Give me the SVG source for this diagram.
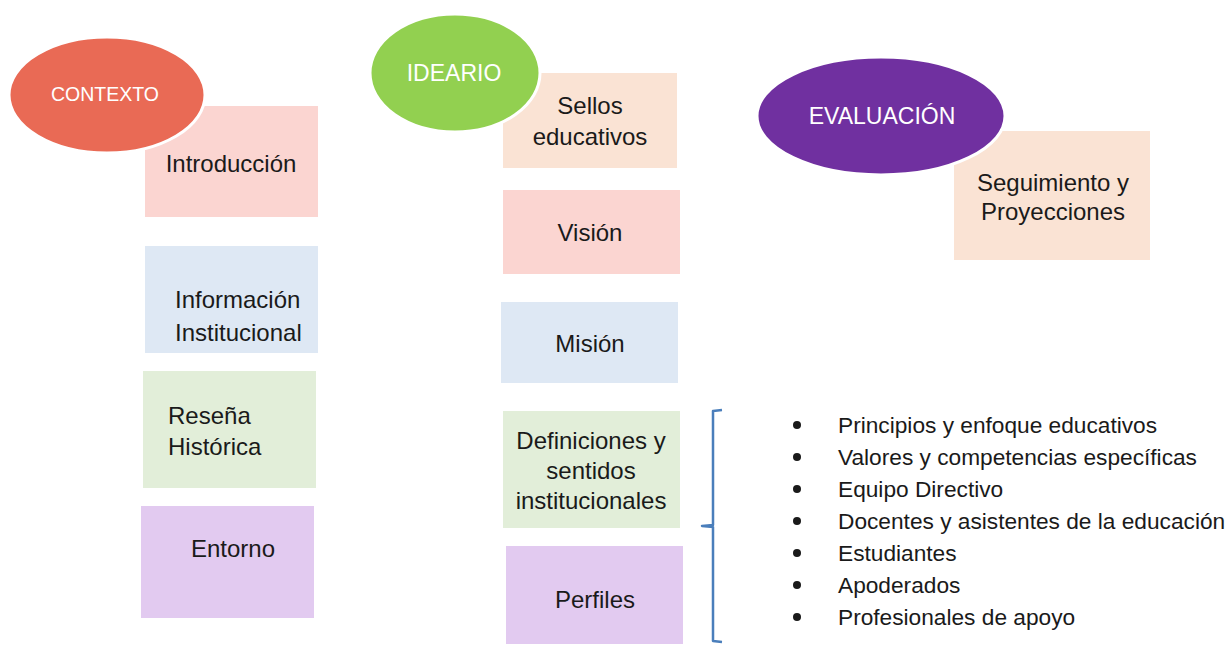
<svg xmlns="http://www.w3.org/2000/svg" width="1230" height="645" viewBox="0 0 1230 645">
<style>
text{font-family:"Liberation Sans",Arial,sans-serif}
.box{font-size:24px;fill:#1a1a1a}
.oval{font-size:23px;fill:#ffffff}
.ell{stroke:#ffffff;stroke-width:3}
.pink{fill:#FBD5D1}
.peach{fill:#FAE3D4}
.blue{fill:#DEE8F4}
.green{fill:#E2EED9}
.lav{fill:#E2CAF0}
.li{font-size:22.7px;fill:#1a1a1a}
.dot{fill:#1a1a1a}
</style>
<rect width="1230" height="645" fill="#ffffff"/>

<g id="introduccion"><rect class="pink" x="145" y="106" width="173" height="111"/><text class="box" x="231" y="172" text-anchor="middle">Introducción</text></g>
<g id="informacion"><rect class="blue" x="145" y="246" width="173" height="107"/><text class="box" x="175" y="308">Información</text><text class="box" x="175" y="341">Institucional</text></g>
<g id="resena"><rect class="green" x="143" y="371" width="173" height="117"/><text class="box" x="168" y="424">Reseña</text><text class="box" x="168" y="455">Histórica</text></g>
<g id="entorno"><rect class="lav" x="141" y="506" width="173" height="112"/><text class="box" x="233" y="557" text-anchor="middle">Entorno</text></g>
<g id="contexto"><ellipse class="ell" cx="107" cy="95" rx="98" ry="58" fill="#E96A55"/><text class="oval" x="105" y="101" text-anchor="middle" style="font-size:19.5px">CONTEXTO</text></g>

<g id="sellos"><rect class="peach" x="503" y="73" width="174" height="95"/><text class="box" x="590" y="114" text-anchor="middle">Sellos</text><text class="box" x="590" y="145" text-anchor="middle">educativos</text></g>
<g id="vision"><rect class="pink" x="503" y="190" width="177" height="84"/><text class="box" x="590" y="241" text-anchor="middle">Visión</text></g>
<g id="mision"><rect class="blue" x="501" y="302" width="177" height="81"/><text class="box" x="590" y="352" text-anchor="middle">Misión</text></g>
<g id="definiciones"><rect class="green" x="503" y="411" width="177" height="117"/><text class="box" x="591" y="449" text-anchor="middle">Definiciones y</text><text class="box" x="591" y="479" text-anchor="middle">sentidos</text><text class="box" x="591" y="509" text-anchor="middle">institucionales</text></g>
<g id="perfiles"><rect class="lav" x="506" y="546" width="177" height="98"/><text class="box" x="595" y="608" text-anchor="middle">Perfiles</text></g>
<g id="ideario"><ellipse class="ell" cx="455" cy="73" rx="85" ry="59" fill="#92D050"/><text class="oval" x="454" y="81" text-anchor="middle">IDEARIO</text></g>

<g id="seguimiento"><rect class="peach" x="954" y="131" width="196" height="129"/><text class="box" x="1053" y="191" text-anchor="middle">Seguimiento y</text><text class="box" x="1053" y="220" text-anchor="middle">Proyecciones</text></g>
<g id="evaluacion"><ellipse class="ell" cx="881" cy="116" rx="124" ry="59" fill="#7030A0"/><text class="oval" x="882" y="124" text-anchor="middle">EVALUACIÓN</text></g>

<g id="connectors"><path d="M722,410 L713,411 L713,525 L702,526 L713,527 L713,641 L722,642" fill="none" stroke="#4A7EBB" stroke-width="2.5" stroke-linejoin="round"/></g>

<g id="lista">
<circle class="dot" cx="797" cy="425" r="4"/><text class="li" x="838" y="433">Principios y enfoque educativos</text>
<circle class="dot" cx="797" cy="457" r="4"/><text class="li" x="838" y="465">Valores y competencias específicas</text>
<circle class="dot" cx="797" cy="489" r="4"/><text class="li" x="838" y="497">Equipo Directivo</text>
<circle class="dot" cx="797" cy="521" r="4"/><text class="li" x="838" y="529">Docentes y asistentes de la educación</text>
<circle class="dot" cx="797" cy="553" r="4"/><text class="li" x="838" y="561">Estudiantes</text>
<circle class="dot" cx="797" cy="585" r="4"/><text class="li" x="838" y="593">Apoderados</text>
<circle class="dot" cx="797" cy="617" r="4"/><text class="li" x="838" y="625">Profesionales de apoyo</text>
</g>
</svg>
